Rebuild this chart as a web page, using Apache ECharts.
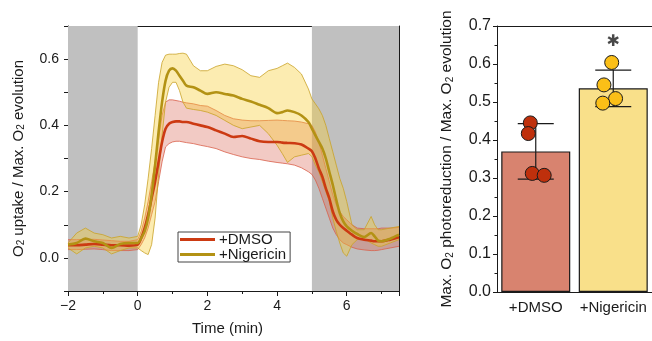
<!DOCTYPE html>
<html>
<head>
<meta charset="utf-8">
<script src="https://cdn.jsdelivr.net/npm/echarts@6/dist/echarts.min.js"></script>
<style>
  html, body { margin: 0; padding: 0; background: #fff; }
  #chart { width: 652px; height: 341px; }
</style>
</head>
<body>
<div id="chart"></div>
<script>
// time course (min)
const time = [-2, -1.75, -1.5, -1.25, -1, -0.75, -0.5, -0.25, 0, 0.1, 0.2, 0.3, 0.4, 0.5, 0.6, 0.7, 0.8, 0.9,
  1.0, 1.1, 1.2, 1.3, 1.4, 1.6, 1.8, 2.0, 2.25, 2.5, 2.75, 3.0, 3.25, 3.5, 3.75, 4.0, 4.15, 4.3, 4.5, 4.7, 4.9,
  5.0, 5.1, 5.2, 5.3, 5.4, 5.5, 5.6, 5.7, 5.8, 5.9, 6.0, 6.15, 6.3, 6.5, 6.7, 6.8, 6.9, 7.0, 7.25, 7.5];

const dmsoMean = [0.038, 0.038, 0.04, 0.042, 0.04, 0.038, 0.038, 0.037, 0.04, 0.06, 0.09, 0.13, 0.18, 0.23, 0.29, 0.35, 0.39, 0.405,
  0.41, 0.412, 0.412, 0.41, 0.41, 0.405, 0.4, 0.395, 0.385, 0.375, 0.365, 0.368, 0.36, 0.352, 0.35, 0.35, 0.348, 0.347, 0.346, 0.342, 0.33,
  0.322, 0.3, 0.27, 0.245, 0.21, 0.18, 0.14, 0.115, 0.1, 0.09, 0.082, 0.07, 0.06, 0.055, 0.052, 0.05, 0.05, 0.05, 0.055, 0.062];
const dmsoUpper = [0.055, 0.055, 0.056, 0.056, 0.054, 0.052, 0.05, 0.05, 0.055, 0.08, 0.12, 0.17, 0.23, 0.29, 0.36, 0.43, 0.47, 0.477,
  0.477, 0.475, 0.473, 0.47, 0.468, 0.465, 0.46, 0.458, 0.445, 0.43, 0.42, 0.416, 0.414, 0.414, 0.415, 0.416, 0.415, 0.414, 0.413, 0.41, 0.405,
  0.4, 0.38, 0.35, 0.31, 0.27, 0.23, 0.19, 0.16, 0.14, 0.125, 0.115, 0.1, 0.09, 0.088, 0.088, 0.088, 0.088, 0.09, 0.09, 0.092];
const dmsoLower = [0.025, 0.025, 0.026, 0.027, 0.025, 0.022, 0.022, 0.022, 0.025, 0.04, 0.06, 0.09, 0.13, 0.17, 0.23, 0.29, 0.335, 0.345,
  0.35, 0.352, 0.352, 0.35, 0.348, 0.345, 0.34, 0.336, 0.33, 0.32, 0.312, 0.305, 0.3, 0.297, 0.292, 0.288, 0.286, 0.284, 0.28, 0.272, 0.26,
  0.252, 0.235, 0.21, 0.18, 0.15, 0.12, 0.09, 0.07, 0.055, 0.045, 0.04, 0.032, 0.027, 0.024, 0.022, 0.022, 0.023, 0.025, 0.03, 0.035];

const nigMean = [0.04, 0.045, 0.058, 0.05, 0.045, 0.03, 0.042, 0.045, 0.045, 0.06, 0.08, 0.12, 0.19, 0.28, 0.38, 0.47, 0.535, 0.565,
  0.572, 0.565, 0.55, 0.535, 0.52, 0.515, 0.505, 0.495, 0.5, 0.495, 0.49, 0.48, 0.472, 0.462, 0.452, 0.437, 0.44, 0.445, 0.44, 0.43, 0.41,
  0.39, 0.37, 0.35, 0.33, 0.3, 0.26, 0.22, 0.175, 0.135, 0.11, 0.095, 0.082, 0.072, 0.063, 0.075, 0.065, 0.052, 0.05, 0.058, 0.07];
const nigUpper = [0.045, 0.075, 0.09, 0.075, 0.07, 0.06, 0.065, 0.06, 0.065, 0.1, 0.16, 0.24, 0.33, 0.43, 0.53, 0.59, 0.612, 0.615,
  0.615, 0.615, 0.617, 0.618, 0.615, 0.58, 0.565, 0.565, 0.578, 0.585, 0.58, 0.568, 0.55, 0.545, 0.565, 0.572, 0.58, 0.588, 0.575, 0.555, 0.51,
  0.48, 0.465, 0.45, 0.43, 0.4, 0.36, 0.32, 0.28, 0.24, 0.21, 0.17, 0.1, 0.085, 0.085, 0.125, 0.1, 0.085, 0.085, 0.09, 0.095];
const nigLower = [0.03, 0.012, 0.03, 0.035, 0.03, 0.012, 0.022, 0.03, 0.03, 0.022, 0.015, 0.01, 0.04, 0.12, 0.25, 0.37, 0.47, 0.515,
  0.53, 0.53, 0.505, 0.47, 0.452, 0.448, 0.445, 0.44, 0.43, 0.415, 0.4, 0.39, 0.395, 0.4, 0.375, 0.34, 0.315, 0.288, 0.305, 0.31, 0.315,
  0.306, 0.28, 0.26, 0.23, 0.2, 0.17, 0.12, 0.08, 0.045, 0.015, 0.005, 0.04, 0.055, 0.058, 0.045, 0.04, 0.035, 0.035, 0.045, 0.055];

// dark periods (grey)
const darkPeriods = [[-2, 0], [5, 7.5]];

// right panel
const groups = ['+DMSO', '+Nigericin'];
const groupMeans = [0.370, 0.536];
const groupSd = [0.073, 0.048];
const dmsoDots = [[-0.07, 0.445], [-0.096, 0.417], [-0.045, 0.312], [0.109, 0.307]];
const nigDots = [[0.98, 0.604], [0.88, 0.545], [1.03, 0.509], [0.865, 0.497]];

const font = 'Liberation Sans, Arial, sans-serif';
const ink = '#1a1a1a';

const pairs = (xs, ys) => xs.map((x, i) => [x, ys[i]]);

const chart = echarts.init(document.getElementById('chart'));

// shaded band between lower and upper, drawn as one polygon
function band(name, lower, upper, edge, fill) {
  return {
    name: name, type: 'custom', xAxisIndex: 0, yAxisIndex: 0, z: 2, silent: true, clip: true,
    data: time.map((t, i) => [t, lower[i], upper[i]]),
    renderItem(params, api) {
      if (params.dataIndex !== 0) return null;
      const up = time.map((t, i) => api.coord([t, upper[i]]));
      const lo = time.map((t, i) => api.coord([t, lower[i]]));
      const poly = up.concat(lo.slice().reverse());
      return { type: 'group', children: [
        { type: 'polygon', shape: { points: poly }, style: { fill: fill } },
        { type: 'polyline', shape: { points: up }, style: { stroke: edge, lineWidth: 0.8, fill: null } },
        { type: 'polyline', shape: { points: lo }, style: { stroke: edge, lineWidth: 0.8, fill: null } }
      ] };
    }
  };
}

const subRich = { s: { fontSize: 10, fontFamily: font, color: ink, verticalAlign: 'bottom', lineHeight: 10 } };

chart.setOption({
  animation: false,
  backgroundColor: '#fff',
  grid: [
    { left: 68, right: 253, top: 26, bottom: 49 },
    { left: 497, right: 0, top: 26, bottom: 49 }
  ],
  legend: {
    data: ['+DMSO', '+Nigericin'],
    orient: 'vertical', left: 178, top: 232,
    icon: 'rect', itemWidth: 35, itemHeight: 3, itemGap: 0,
    padding: [0, 4, 0, 2],
    borderColor: '#444', borderWidth: 1, backgroundColor: '#fff',
    textStyle: { fontSize: 15, fontFamily: font, color: ink, padding: [0, 0, 0, -1] }
  },
  xAxis: [
    {
      type: 'value', gridIndex: 0, min: -2, max: 7.5, interval: 2,
      name: 'Time (min)', nameLocation: 'middle', nameGap: 30,
      nameTextStyle: { fontSize: 15, fontFamily: font, color: ink, padding: [0, 12, 0, 0] },
      axisLine: { onZero: false, lineStyle: { color: ink, width: 1 } },
      axisTick: { length: 5, lineStyle: { color: ink } },
      minorTick: { show: true, splitNumber: 2, length: 3, lineStyle: { color: ink } },
      axisLabel: { fontSize: 14, fontFamily: font, color: ink, margin: 8, showMaxLabel: false,
        formatter: v => (v % 1 !== 0 ? '' : v < 0 ? '\u2212' + Math.abs(v) : String(v)) },
      splitLine: { show: false }
    },
    {
      type: 'value', gridIndex: 0, position: 'top', min: -2, max: 7.5,
      axisLine: { show: true, onZero: false, lineStyle: { color: ink, width: 1 } },
      axisTick: { show: false }, axisLabel: { show: false }, splitLine: { show: false }
    },
    {
      type: 'category', gridIndex: 1, data: groups,
      axisLine: { onZero: false, lineStyle: { color: ink, width: 1 } },
      axisTick: { alignWithLabel: true, length: 5, lineStyle: { color: ink } },
      axisLabel: { interval: 0, fontSize: 15, fontFamily: font, color: ink, margin: 8 }
    },
    {
      type: 'value', gridIndex: 1, min: -0.5, max: 1.5, show: false
    },
    {
      type: 'value', gridIndex: 1, position: 'top', min: 0, max: 1,
      axisLine: { show: true, onZero: false, lineStyle: { color: ink, width: 1 } },
      axisTick: { show: false }, axisLabel: { show: false }, splitLine: { show: false }
    }
  ],
  yAxis: [
    {
      type: 'value', gridIndex: 0, min: -0.1, max: 0.7, interval: 0.1,
      name: 'O{s|2} uptake / Max. O{s|2} evolution', nameLocation: 'middle', nameGap: 42,
      nameTextStyle: { fontSize: 15, fontFamily: font, color: ink, rich: subRich },
      axisLine: { show: true, onZero: false, lineStyle: { color: ink, width: 1 } },
      axisTick: { length: 4, lineStyle: { color: ink } },
      axisLabel: { fontSize: 14, fontFamily: font, color: ink, margin: 9,
        formatter: v => (Math.round(v * 10) % 2 === 0 ? v.toFixed(1) : '') },
      splitLine: { show: false }
    },
    {
      type: 'value', gridIndex: 0, position: 'right', min: -0.1, max: 0.7, interval: 0.1,
      axisLine: { show: true, onZero: false, lineStyle: { color: ink, width: 1 } },
      axisTick: { inside: true, length: 4, lineStyle: { color: ink } },
      axisLabel: { show: false }, splitLine: { show: false }
    },
    {
      type: 'value', gridIndex: 1, min: 0, max: 0.7, interval: 0.1,
      name: 'Max. O{s|2} photoreduction / Max. O{s|2} evolution', nameLocation: 'middle', nameGap: 42,
      nameTextStyle: { fontSize: 15.5, fontFamily: font, color: ink, rich: subRich },
      axisLine: { show: true, onZero: false, lineStyle: { color: ink, width: 1 } },
      axisTick: { length: 4, lineStyle: { color: ink } },
      minorTick: { show: true, splitNumber: 2, length: 2.5, lineStyle: { color: ink } },
      axisLabel: { fontSize: 16, fontFamily: font, color: ink, margin: 6,
        formatter: v => v.toFixed(1) },
      splitLine: { show: false }
    },
    {
      type: 'value', gridIndex: 1, position: 'right', min: 0, max: 0.7,
      axisLine: { show: true, onZero: false, lineStyle: { color: ink, width: 1 } },
      axisTick: { show: false }, axisLabel: { show: false }, splitLine: { show: false }
    }
  ],
  series: [
    {
      name: 'dark', type: 'custom', xAxisIndex: 0, yAxisIndex: 0, z: 1, silent: true,
      data: darkPeriods,
      renderItem(params, api) {
        const a = api.coord([api.value(0), 0]);
        const b = api.coord([api.value(1), 0]);
        const cs = params.coordSys;
        return { type: 'rect', shape: { x: a[0], y: cs.y, width: b[0] - a[0], height: cs.height },
          style: { fill: '#c0c0c0' } };
      }
    },
    band('dmso-band', dmsoLower, dmsoUpper, '#d9604a', 'rgba(214, 90, 70, 0.32)'),
    band('nig-band', nigLower, nigUpper, '#c9a227', 'rgba(246, 204, 50, 0.38)'),
    {
      name: '+DMSO', type: 'line', xAxisIndex: 0, yAxisIndex: 0, z: 3,
      data: pairs(time, dmsoMean), symbol: 'none', smooth: 0.3,
      color: '#cc3a12', lineStyle: { color: '#cc3a12', width: 2.6 }
    },
    {
      name: '+Nigericin', type: 'line', xAxisIndex: 0, yAxisIndex: 0, z: 3,
      data: pairs(time, nigMean), symbol: 'none', smooth: 0.3,
      color: '#b39214', lineStyle: { color: '#b39214', width: 2.6 }
    },
    {
      name: 'bars', type: 'bar', xAxisIndex: 2, yAxisIndex: 2, barWidth: 69,
      data: groupMeans.map((v, i) => ({
        value: v,
        itemStyle: { color: i === 0 ? '#d8836f' : '#f9e08a', borderColor: '#1a1a1a', borderWidth: 1.2 }
      }))
    },
    {
      name: 'sd', type: 'custom', xAxisIndex: 2, yAxisIndex: 2, z: 4, silent: true,
      data: groupMeans.map((m, i) => [i, m - groupSd[i], m + groupSd[i]]),
      renderItem(params, api) {
        const lo = api.coord([api.value(0), api.value(1)]);
        const hi = api.coord([api.value(0), api.value(2)]);
        const w = 18;
        const st = { stroke: '#1a1a1a', lineWidth: 1.2 };
        return { type: 'group', children: [
          { type: 'line', shape: { x1: lo[0], y1: lo[1], x2: hi[0], y2: hi[1] }, style: st },
          { type: 'line', shape: { x1: lo[0] - w, y1: lo[1], x2: lo[0] + w, y2: lo[1] }, style: st },
          { type: 'line', shape: { x1: hi[0] - w, y1: hi[1], x2: hi[0] + w, y2: hi[1] }, style: st }
        ] };
      }
    },
    {
      name: 'dmso-dots', type: 'scatter', xAxisIndex: 3, yAxisIndex: 2, z: 5,
      data: dmsoDots, symbolSize: 14,
      itemStyle: { color: '#bf300c', borderColor: '#1a1a1a', borderWidth: 1, opacity: 1 }
    },
    {
      name: 'nig-dots', type: 'scatter', xAxisIndex: 3, yAxisIndex: 2, z: 5,
      data: nigDots, symbolSize: 14,
      itemStyle: { color: '#fbbf17', borderColor: '#1a1a1a', borderWidth: 1, opacity: 1 }
    },
    {
      name: 'signif', type: 'scatter', xAxisIndex: 3, yAxisIndex: 2, z: 5, silent: true,
      data: [[1, 0.657]], symbolSize: 0,
      label: { show: true, position: 'inside', formatter: '\u2731', fontSize: 16, color: ink,
        fontFamily: 'DejaVu Sans' }
    }
  ]
});
</script>
</body>
</html>
